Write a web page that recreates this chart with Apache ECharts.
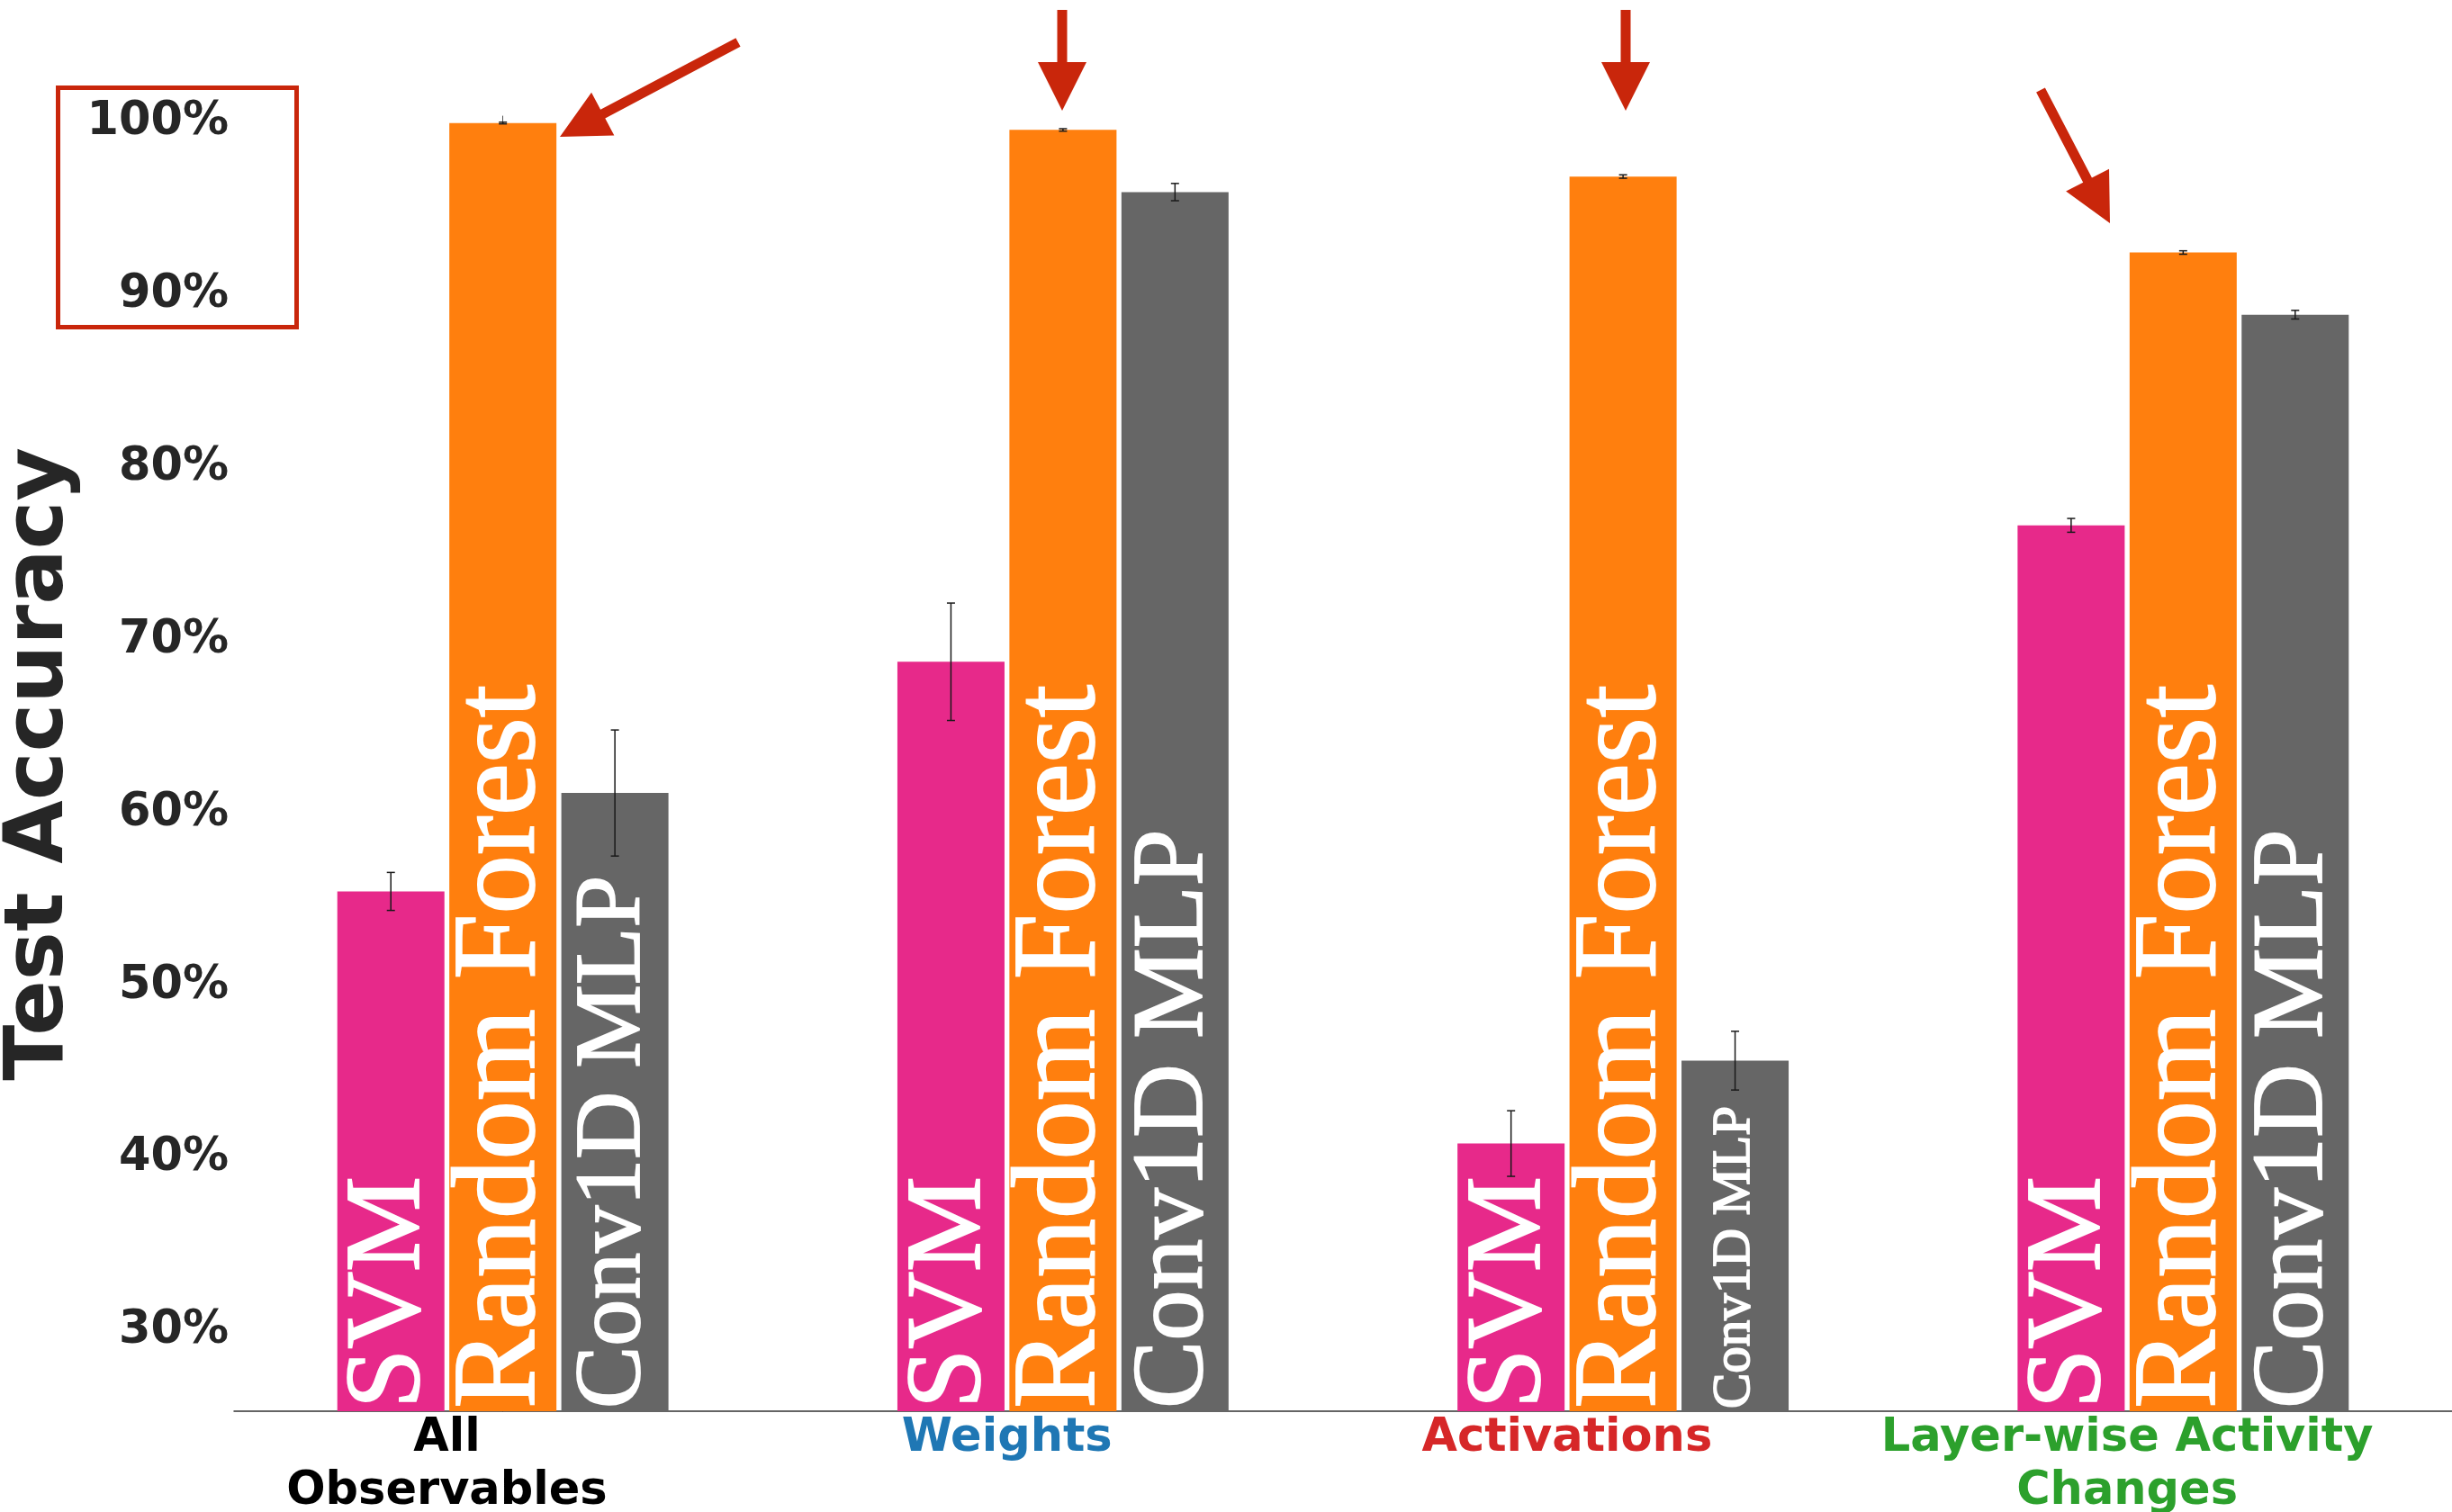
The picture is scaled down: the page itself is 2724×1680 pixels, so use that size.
<!DOCTYPE html>
<html>
<head>
<meta charset="utf-8">
<script src="https://cdn.jsdelivr.net/npm/echarts@6/dist/echarts.min.js"></script>
<style>
  html, body { margin: 0; padding: 0; background: #ffffff; }
  #chart { width: 2724px; height: 1680px; }
</style>
</head>
<body>
<div id="chart"></div>
<script>
// Observable groups shown along the x axis
const categories = ['All\nObservables', 'Weights', 'Activations', 'Layer-wise Activity\nChanges'];
const categoryColors = ['#000000', '#1f77b4', '#d62728', '#2ca02c'];

// Classifiers
const models = ['SVM', 'Random Forest', 'Conv1D MLP'];

// Mean test accuracy (%) and spread per group
const svmAcc = [55.1, 68.4, 40.5, 76.3];
const svmErr = [1.1, 3.4, 1.9, 0.4];
const rfAcc = [99.6, 99.2, 96.5, 92.1];
const rfErr = [0.05, 0.07, 0.1, 0.1];
const convAcc = [60.8, 95.6, 45.3, 88.5];
const convErr = [3.65, 0.5, 1.7, 0.25];

// Y tick labels (%)
const yTicks = [30, 40, 50, 60, 70, 80, 90, 100];
const yTitle = 'Test Accuracy';

// Layout / style constants
const modelColors = ['#e7298a', '#ff7f0e', '#666666'];
const modelOffsets = [-0.2, 0, 0.2];
const tickShift = -0.1;
const inBarFont = [[119, 119, 119, 119], [131, 131, 131, 131], [104, 113, 59, 113]];

const accs = [svmAcc, rfAcc, convAcc];
const errs = [svmErr, rfErr, convErr];

const barSeries = models.map((name, m) => ({
  name: name,
  type: 'bar',
  barWidth: 119,
  barGap: '-100%',
  clip: true,
  z: 2,
  itemStyle: { color: modelColors[m] },
  label: {
    show: true,
    position: 'insideBottom',
    rotate: 90,
    align: 'left',
    verticalAlign: 'middle',
    distance: 3,
    formatter: name,
    color: '#ffffff',
    textBorderColor: '#ffffff',
    textBorderWidth: 1.8,
    fontFamily: 'Liberation Serif',
    fontSize: inBarFont[m][0]
  },
  data: accs[m].map((v, i) => ({
    value: [i + modelOffsets[m], v],
    label: { fontSize: inBarFont[m][i] }
  }))
}));

const errData = [];
models.forEach((name, m) => {
  accs[m].forEach((v, i) => errData.push([i + modelOffsets[m], v, errs[m][i]]));
});

const errSeries = {
  type: 'custom',
  z: 5,
  data: errData,
  encode: { x: 0, y: 1 },
  renderItem: function (params, api) {
    const x = api.value(0), v = api.value(1), e = api.value(2);
    const top = api.coord([x, v + e]);
    const bot = api.coord([x, v - e]);
    const cap = 4.5;
    const st = { stroke: '#1a1a1a', lineWidth: 1.5 };
    return {
      type: 'group',
      children: [
        { type: 'line', shape: { x1: top[0], y1: top[1], x2: bot[0], y2: bot[1] }, style: st },
        { type: 'line', shape: { x1: top[0] - cap, y1: top[1], x2: top[0] + cap, y2: top[1] }, style: st },
        { type: 'line', shape: { x1: bot[0] - cap, y1: bot[1], x2: bot[0] + cap, y2: bot[1] }, style: st }
      ]
    };
  }
};

// Red call-out arrows (pixel geometry)
function arrowShape(x1, y1, x2, y2) {
  const dx = x2 - x1, dy = y2 - y1;
  const len = Math.sqrt(dx * dx + dy * dy);
  const ux = dx / len, uy = dy / len;
  const px = -uy, py = ux;
  const sw = 5.5, hw = 27, hl = 54;
  const bx = x2 - ux * hl, by = y2 - uy * hl;
  return [
    [x1 + px * sw, y1 + py * sw],
    [bx + px * sw, by + py * sw],
    [bx + px * hw, by + py * hw],
    [x2, y2],
    [bx - px * hw, by - py * hw],
    [bx - px * sw, by - py * sw],
    [x1 - px * sw, y1 - py * sw]
  ];
}
const accent = '#c9260b';
const arrows = [
  [820, 47, 622, 152],
  [1180, 11, 1180, 123],
  [1806, 11, 1806, 123],
  [2267, 100, 2344, 248]
];

const chart = echarts.init(document.getElementById('chart'), null, { renderer: 'canvas' });

chart.setOption({
  animation: false,
  backgroundColor: '#ffffff',
  grid: { left: 260, right: 0, top: 129, bottom: 112, containLabel: false, outerBoundsMode: 'none' },
  xAxis: {
    type: 'value',
    min: -0.48,
    max: 3.48,
    splitLine: { show: false },
    axisTick: { show: false },
    axisLine: { show: true, lineStyle: { color: '#333333', width: 1.5 } },
    axisLabel: {
      customValues: categories.map((c, i) => i + tickShift),
      formatter: function (v) { return categories[Math.round(Number(v) - tickShift)] || ''; },
      color: function (v) { return categoryColors[Math.round(Number(v) - tickShift)] || '#000'; },
      fontFamily: 'DejaVu Sans',
      fontWeight: 'bold',
      fontSize: 51,
      lineHeight: 59,
      margin: 1,
      hideOverlap: false,
      showMinLabel: true,
      showMaxLabel: true
    }
  },
  yAxis: {
    type: 'value',
    min: 25,
    max: 100,
    splitLine: { show: false },
    axisTick: { show: false },
    axisLine: { show: true, lineStyle: { color: '#555555', width: 1 } },
    axisLabel: {
      customValues: yTicks,
      formatter: function (v) { return v + '%'; },
      fontFamily: 'DejaVu Sans',
      fontWeight: 'bold',
      fontSize: 51,
      color: '#262626',
      verticalAlign: 'top',
      lineHeight: 14,
      margin: 6
    }
  },
  series: barSeries.concat([errSeries]),
  graphic: [
    {
      // y-axis title, rotated to read bottom-to-top
      type: 'text',
      x: 45,
      y: 849,
      rotation: Math.PI / 2,
      style: {
        text: yTitle,
        fill: '#262626',
        fontFamily: 'DejaVu Sans',
        fontWeight: 'bold',
        fontSize: 91,
        align: 'center',
        verticalAlign: 'middle'
      },
      z: 50
    },
    {
      type: 'rect',
      shape: { x: 64.5, y: 97.5, width: 265, height: 266 },
      style: { fill: 'none', stroke: accent, lineWidth: 5 },
      z: 100
    }
  ].concat(arrows.map(a => ({
    type: 'polygon',
    shape: { points: arrowShape(a[0], a[1], a[2], a[3]) },
    style: { fill: accent },
    z: 100
  })))
});
</script>
</body>
</html>
